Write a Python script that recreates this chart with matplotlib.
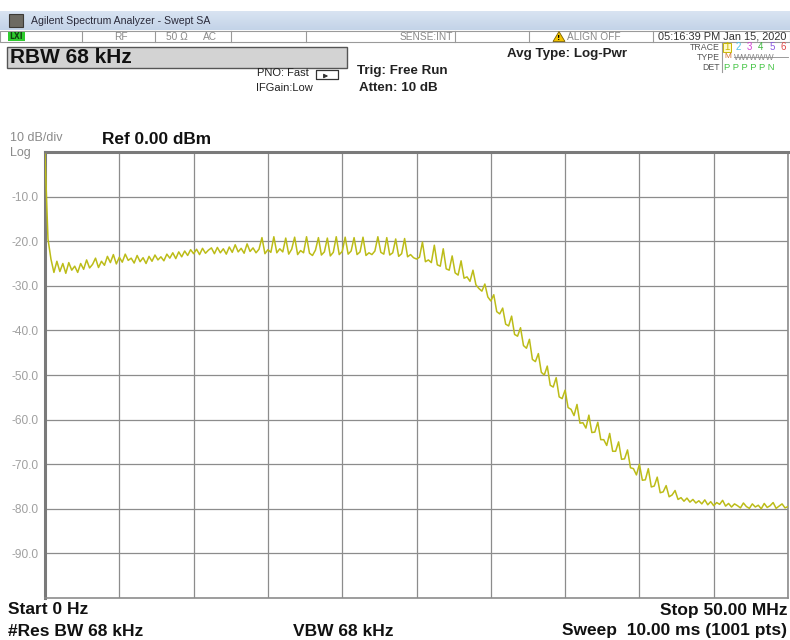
import numpy as np
import matplotlib
matplotlib.use("Agg")
from matplotlib import pyplot as plt
from matplotlib.patches import Rectangle, Polygon

# sweep settings
start_mhz = 0.0
stop_mhz = 50.0
ref_dbm = 0.0
db_div = 10

# trace, one value every 0.2 MHz (dBm)
level = [
    -0.5, -19.5, -24.0, -27.0, -24.5, -26.8, -25.0, -27.2, -24.8, -26.5,
    -25.6, -27.0, -25.0, -26.3, -24.2, -26.0, -25.2, -23.8, -25.9, -24.5,
    -25.4, -23.4, -24.8, -23.0, -25.1, -23.6, -24.7, -22.9, -24.3, -23.8,
    -24.9, -23.2, -24.6, -23.7, -25.0, -23.4, -24.5, -23.1, -24.2, -23.5,
    -24.4, -22.9, -23.8, -22.6, -23.9, -22.4, -23.5, -22.2, -23.2, -21.9,
    -22.8, -21.8, -23.0, -21.6, -22.7, -22.0, -21.5, -22.8, -21.4, -22.6,
    -21.7, -22.9, -21.3, -22.5, -20.8, -22.4, -21.6, -22.7, -20.6, -22.3,
    -21.5, -22.6, -21.8, -19.2, -22.8, -21.9, -22.5, -19.0, -22.6, -21.7,
    -22.4, -19.3, -22.9, -21.8, -19.1, -23.0, -22.1, -22.6, -19.0, -22.7,
    -23.2, -22.0, -19.2, -23.1, -22.4, -19.3, -23.3, -22.5, -19.0, -23.0,
    -22.3, -19.1, -22.9, -22.2, -19.2, -23.0, -22.4, -19.1, -23.2, -22.6,
    -23.0, -22.2, -19.0, -22.5, -22.9, -19.2, -23.1, -22.6, -19.5, -23.4,
    -22.8, -19.4, -23.5, -23.0, -23.7, -24.0, -23.6, -20.2, -24.6, -24.2,
    -24.8, -20.9, -25.3, -25.6, -21.7, -26.2, -26.5, -23.3, -27.1, -27.6,
    -24.4, -28.3, -28.0, -29.0, -26.5, -29.8, -30.6, -31.2, -29.6, -32.5,
    -33.4, -32.0, -35.8, -36.3, -35.0, -38.6, -39.0, -36.8, -40.9, -41.3,
    -39.4, -43.4, -44.0, -42.0, -46.5, -47.0, -45.2, -49.4, -50.0, -48.0,
    -52.3, -52.7, -50.6, -54.9, -55.3, -53.4, -57.3, -57.7, -59.1, -56.6,
    -60.8, -60.7, -61.9, -59.0, -62.9, -62.8, -60.6, -64.5, -64.5, -65.8,
    -63.1, -67.1, -67.1, -65.0, -68.9, -68.8, -66.8, -70.8, -71.0, -72.4,
    -70.0, -73.6, -73.5, -71.0, -75.1, -74.9, -72.9, -76.4, -76.2, -74.8,
    -77.3, -76.9, -75.9, -77.9, -77.5, -78.3, -77.6, -78.5, -77.9, -78.7,
    -78.2, -78.9, -78.0, -79.1, -78.4, -79.3, -78.6, -79.0, -78.1, -79.4,
    -78.8, -79.6, -78.9, -79.3, -79.8, -78.7, -79.5, -79.9, -78.9, -79.6,
    -79.2, -80.0, -78.8, -79.7, -79.3, -78.6, -79.9, -79.4, -78.9, -79.8,
    -79.5,
]
freq = np.linspace(start_mhz, stop_mhz, len(level))

ytick_vals = [-10, -20, -30, -40, -50, -60, -70, -80, -90]
ytick_labels = ["-10.0", "-20.0", "-30.0", "-40.0", "-50.0", "-60.0", "-70.0", "-80.0", "-90.0"]

trace_nums = ["1", "2", "3", "4", "5", "6"]
trace_cols = ["#c9b800", "#4fc3e8", "#d640d6", "#3cb43c", "#8a5ae0", "#e04848"]

narrow = ["Liberation Sans Narrow", "Liberation Sans", "DejaVu Sans"]
ui = ["Liberation Sans", "DejaVu Sans"]

fig = plt.figure(figsize=(7.9, 6.4), dpi=100)
fig.patch.set_facecolor("white")

# background layer in pixel coordinates for the instrument header/footer
bg = fig.add_axes([0, 0, 1, 1])
bg.set_xlim(0, 790)
bg.set_ylim(640, 0)
bg.axis("off")

# window title bar
bar = np.linspace(0, 1, 50).reshape(-1, 1)
bg.imshow(bar, extent=(0, 790, 30, 11), cmap=matplotlib.colors.LinearSegmentedColormap.from_list(
    "tb", ["#d9e4f2", "#c3d3e8"]), aspect="auto", zorder=1)
bg.add_patch(Rectangle((9, 14), 14, 13, facecolor="#6d6a62", edgecolor="#3c3a36", lw=0.8, zorder=2))
bg.text(31, 20.5, "Agilent Spectrum Analyzer - Swept SA", fontsize=7.6, color="#2a2a3a",
        va="center", ha="left", family=ui, zorder=3)

# status row
bg.add_patch(Rectangle((0, 31), 790, 11, facecolor="white", edgecolor="#9a9a9a", lw=0.8, zorder=2))
bg.add_patch(Rectangle((8, 32), 17, 9, facecolor="#2ecc2e", edgecolor="none", zorder=3))
bg.text(9, 36.5, "LXI", fontsize=5.5, color="#114411", fontweight="bold", va="center", ha="left", zorder=4)
for sx in [82, 155, 231, 306, 455, 529, 653]:
    bg.plot([sx, sx], [31, 42], color="#9a9a9a", lw=0.8, zorder=3)
status_txt = [(121, "RF"), (177, "50 Ω"), (210, "AC"), (426, "SENSE:INT"), (594, "ALIGN OFF")]
for sx, s in status_txt:
    bg.text(sx, 36.5, s, fontsize=7.3, color="#8a8a8a", va="center", ha="center", family=ui, zorder=4)
bg.add_patch(Polygon([[553, 41.5], [559, 31.5], [565, 41.5]], closed=True, facecolor="#f2c200",
                     edgecolor="#7a6000", lw=0.6, zorder=4))
bg.text(559, 37.8, "!", fontsize=5, color="black", fontweight="bold", va="center", ha="center", zorder=5)
bg.text(722, 36.5, "05:16:39 PM Jan 15, 2020", fontsize=7.9, color="#333333", va="center",
        ha="center", family=ui, zorder=4)

# RBW box
bg.add_patch(Rectangle((7, 47), 340, 21, facecolor="#d3d3d3", edgecolor="#555555", lw=1.0, zorder=2))
bg.text(10, 57.5, "RBW 68 kHz", fontsize=15, fontweight="bold", color="#111111",
        va="center", ha="left", family=ui, zorder=3)

bg.text(283, 73, "PNO: Fast", fontsize=8, color="#222222", va="center", ha="center", family=ui)
bg.text(284, 88, "IFGain:Low", fontsize=8, color="#222222", va="center", ha="center", family=ui)
bg.add_patch(Rectangle((316, 70), 22, 9, facecolor="white", edgecolor="#333333", lw=0.9,
                       joinstyle="round"))
bg.annotate("", xy=(331, 76), xytext=(322, 76),
            arrowprops=dict(arrowstyle="-|>", color="#333333", lw=0.8, mutation_scale=6))
bg.text(357, 71, "Trig: Free Run", fontsize=9.6, fontweight="bold", color="#222222",
        va="center", ha="left", family=ui)
bg.text(359, 88, "Atten: 10 dB", fontsize=9.6, fontweight="bold", color="#222222",
        va="center", ha="left", family=ui)
bg.text(567, 54, "Avg Type: Log-Pwr", fontsize=9.6, fontweight="bold", color="#222222",
        va="center", ha="center", family=ui)

# trace table
bg.text(720, 47, "TRACE", fontsize=6.3, color="#555555", va="center", ha="right", family=ui)
bg.text(720, 57, "TYPE", fontsize=6.3, color="#555555", va="center", ha="right", family=ui)
bg.text(720, 67, "DET", fontsize=6.3, color="#555555", va="center", ha="right", family=ui)
bg.plot([722, 722], [43, 72], color="#9a9a9a", lw=0.8)
bg.add_patch(Rectangle((723, 42.5), 8, 9.5, facecolor="#fff9c8", edgecolor="#c9b800", lw=0.7))
for k, (n, c) in enumerate(zip(trace_nums, trace_cols)):
    bg.text(727 + k * 11.3, 47.3, n, fontsize=7, color=c, va="center", ha="center", family=ui)
bg.text(724, 57, "M", fontsize=6, color="#d07030", va="center", ha="left", family=ui)
bg.text(734, 57, "WWWWW", fontsize=6.2, color="#8a8a8a", va="center", ha="left", family=ui)
bg.plot([734, 788], [57, 57], color="#8a8a8a", lw=0.6)
bg.text(724, 67, "P P P P P N", fontsize=6.8, color="#44c444", va="center", ha="left", family=ui)

# scale annotations
bg.text(10, 138, "10 dB/div", fontsize=9, color="#8a8a8a", va="center", ha="left", family=ui)
bg.text(10, 153, "Log", fontsize=9, color="#8a8a8a", va="center", ha="left", family=ui)
bg.text(102, 139, "Ref 0.00 dBm", fontsize=12.4, fontweight="bold", color="#111111",
        va="center", ha="left", family=ui)

# footer
foot = [
    (8, 610, "Start 0 Hz", "left"),
    (787, 610, "Stop 50.00 MHz", "right"),
    (8, 631, "#Res BW 68 kHz", "left"),
    (293, 631, "VBW 68 kHz", "left"),
    (787, 631, "Sweep  10.00 ms (1001 pts)", "right"),
]
for fx, fy, s, ha in foot:
    bg.text(fx, fy, s, fontsize=12.5, fontweight="bold", color="#111111", va="center",
            ha=ha, family=narrow)

# graticule
ax = fig.add_axes([45 / 790, 1 - 598 / 640, 743 / 790, 446 / 640])
ax.set_facecolor("white")
ax.plot(freq, level, color="#bcbc18", lw=1.1, zorder=3)
ax.set_xlim(start_mhz, stop_mhz)
ax.set_ylim(ref_dbm - 10 * db_div, ref_dbm)
ax.set_xticks(np.arange(start_mhz, stop_mhz + 0.1, 5))
ax.set_xticklabels([])
ax.set_yticks(ytick_vals)
ax.set_yticklabels(ytick_labels, fontsize=8.6, color="#a0a0a0", family=ui)
ax.tick_params(length=0, pad=5)
ax.grid(True, color="#8c8c8c", lw=0.9)
for side in ["right", "bottom"]:
    ax.spines[side].set_color("#8c8c8c")
    ax.spines[side].set_linewidth(1.2)
for side in ["left", "top"]:
    ax.spines[side].set_color("#7a7a7a")
    ax.spines[side].set_linewidth(2.2)

fig.savefig("out.png", dpi=100)
